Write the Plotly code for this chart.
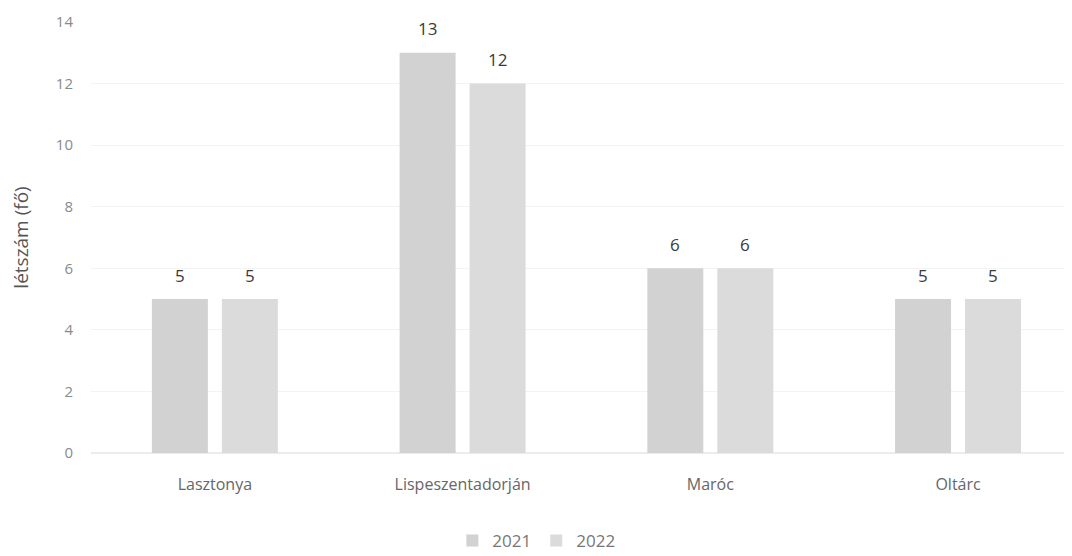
import plotly.graph_objects as go

categories = ["Lasztonya", "Lispeszentadorján", "Maróc", "Oltárc"]
values_2021 = [5, 13, 6, 5]
values_2022 = [5, 12, 6, 5]
series_names = ["2021", "2022"]
y_ticks = [0, 2, 4, 6, 8, 10, 12, 14]

FONT = "Open Sans"
series = [values_2021, values_2022]
colors = ["#d2d2d2", "#dbdbdb"]

fig = go.Figure()
for name, vals, col in zip(series_names, series, colors):
    fig.add_trace(go.Bar(
        name=name, x=categories, y=vals,
        marker=dict(color=col, line=dict(width=0)),
    ))

# data labels above bars
slot_px = 70
for i, vals in enumerate(series):
    for cat, v in zip(categories, vals):
        fig.add_annotation(
            x=cat, y=v, xref="x", yref="y", text=str(v), showarrow=False,
            xshift=(i - 0.5) * slot_px, yshift=24, yanchor="middle",
            font=dict(size=17, color="#3a3a3a", family=FONT),
        )

fig.update_layout(
    width=1064, height=548,
    margin=dict(l=83, r=0, t=14, b=103, autoexpand=False),
    paper_bgcolor="white", plot_bgcolor="white",
    barmode="group", bargap=0.435, bargroupgap=0.2,
    font=dict(family=FONT, color="#777777"),
    showlegend=True,
    legend=dict(orientation="h", x=0.454, xanchor="center", y=-0.204, yanchor="middle",
                font=dict(size=17, color="#777777"),
                traceorder="normal"),
)
fig.update_xaxes(
    range=[-0.5, 3.46], showgrid=False, showline=False, zeroline=False, automargin=False,
    tickfont=dict(size=16, color="#666666"), ticks="", ticklabelstandoff=20,
)
fig.update_yaxes(
    range=[0, 14], tickvals=y_ticks, showgrid=True, gridcolor="#f3f3f3", gridwidth=1,
    zeroline=True, zerolinecolor="#ececec", showline=False, automargin=False,
    tickfont=dict(size=15, color="#8a8a8a"), ticklabelstandoff=17,
    title=dict(text="létszám (fő)", font=dict(size=19, color="#555555"), standoff=24),
)

fig.write_html("out.html")
